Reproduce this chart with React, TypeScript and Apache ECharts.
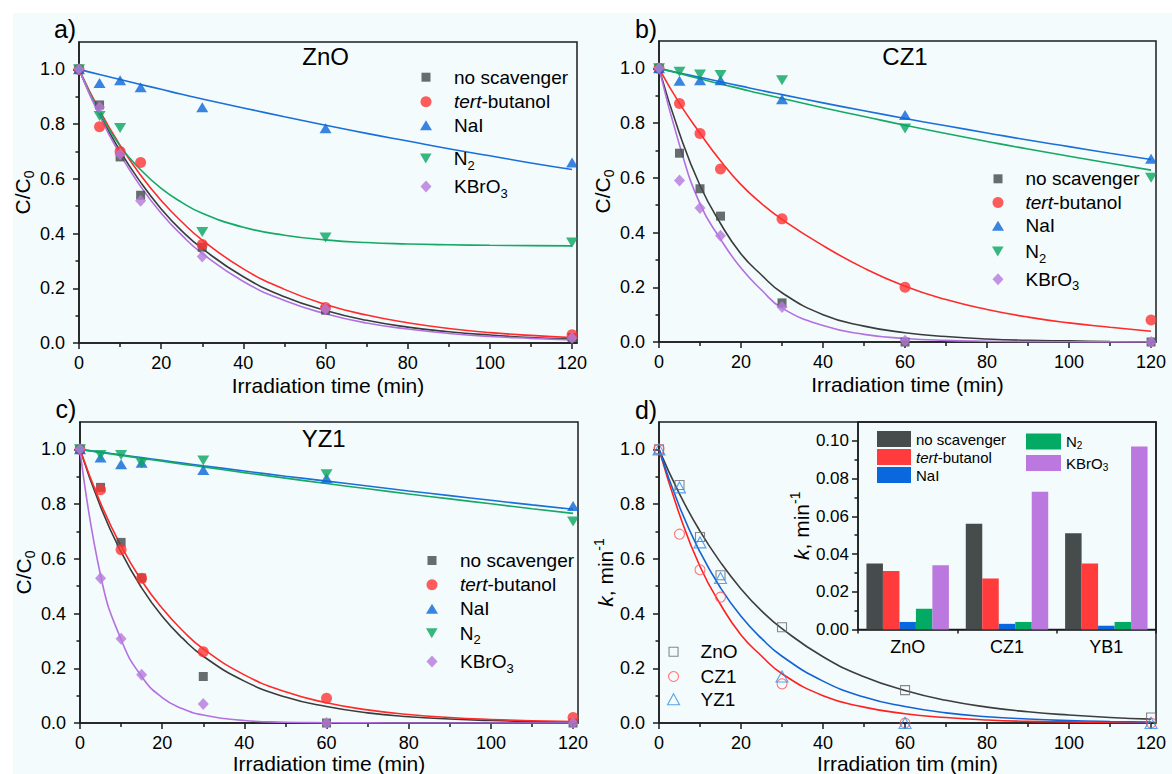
import React, { useEffect, useRef } from 'react';
import * as echarts from 'echarts';

// ---------------- data ----------------
const times = [0, 5, 10, 15, 30, 60, 120];
const fitTimes = [0, 5, 10, 15, 20, 25, 30, 40, 50, 60, 70, 80, 90, 100, 110, 120];

// panel a) ZnO – measured points
const aNoScav = [1.0, 0.87, 0.68, 0.54, 0.35, 0.12, 0.02];
const aTert = [1.0, 0.79, 0.7, 0.66, 0.36, 0.13, 0.03];
const aNaI = [1.0, 0.95, 0.96, 0.935, 0.862, 0.785, 0.66];
const aN2 = [1.0, 0.83, 0.786, null, 0.406, 0.386, 0.367];
const aKBrO3 = [1.0, 0.862, 0.69, 0.52, 0.316, 0.124, 0.018];
// panel a) fitted curves (at fitTimes)
const aFitNoScav = [1, 0.837, 0.701, 0.587, 0.49, 0.41, 0.345, 0.242, 0.169, 0.119, 0.083, 0.058, 0.041, 0.029, 0.02, 0.014];
const aFitTert = [1, 0.85, 0.722, 0.613, 0.521, 0.443, 0.376, 0.271, 0.196, 0.141, 0.102, 0.074, 0.053, 0.038, 0.028, 0.02];
const aFitNaI = [1, 0.981, 0.963, 0.945, 0.927, 0.909, 0.892, 0.859, 0.827, 0.796, 0.766, 0.738, 0.71, 0.684, 0.658, 0.634];
const aFitN2 = [1, 0.843, 0.72, 0.633, 0.565, 0.514, 0.474, 0.423, 0.394, 0.377, 0.367, 0.362, 0.359, 0.357, 0.356, 0.355];
const aFitKBrO3 = [1, 0.83, 0.689, 0.572, 0.474, 0.394, 0.327, 0.225, 0.155, 0.107, 0.073, 0.051, 0.035, 0.024, 0.017, 0.011];

// panel b) CZ1
const bNoScav = [1.0, 0.69, 0.56, 0.46, 0.143, 0.0, 0.0];
const bTert = [1.0, 0.872, 0.762, 0.632, 0.45, 0.2, 0.08];
const bNaI = [1.0, 0.955, 0.957, 0.957, 0.887, 0.83, 0.67];
const bN2 = [1.0, 0.988, 0.978, 0.976, 0.957, 0.78, 0.6];
const bKBrO3 = [1.0, 0.59, 0.49, 0.388, 0.128, 0.005, 0.0];
const bFitNoScav = [1, 0.762, 0.572, 0.433, 0.322, 0.245, 0.18, 0.1, 0.058, 0.034, 0.02, 0.011, 0.006, 0.004, 0.002, 0.001];
const bFitTert = [1, 0.872, 0.763, 0.662, 0.575, 0.506, 0.448, 0.352, 0.27, 0.204, 0.155, 0.119, 0.091, 0.07, 0.054, 0.039];
const bFitNaI = [1, 0.983, 0.967, 0.951, 0.935, 0.919, 0.904, 0.874, 0.845, 0.817, 0.79, 0.764, 0.738, 0.714, 0.69, 0.667];
const bFitN2 = [1, 0.981, 0.962, 0.943, 0.925, 0.907, 0.89, 0.856, 0.824, 0.792, 0.762, 0.733, 0.705, 0.679, 0.653, 0.628];
const bFitKBrO3 = [1, 0.72, 0.505, 0.376, 0.27, 0.19, 0.124, 0.06, 0.028, 0.013, 0.006, 0.003, 0.0015, 0.0007, 0.0003, 0.0002];

// panel c) YZ1
const cNoScav = [1.0, 0.861, 0.66, 0.53, 0.17, 0.0, 0.0];
const cTert = [1.0, 0.852, 0.633, 0.529, 0.26, 0.09, 0.02];
const cNaI = [1.0, 0.97, 0.946, 0.951, 0.925, 0.894, 0.793];
const cN2 = [1.0, 0.979, 0.979, 0.949, 0.959, 0.909, 0.736];
const cKBrO3 = [1.0, 0.529, 0.308, 0.176, 0.069, 0.0, 0.0];
const cFitNoScav = [1, 0.79, 0.625, 0.494, 0.39, 0.309, 0.244, 0.153, 0.095, 0.06, 0.037, 0.023, 0.0145, 0.009, 0.0057, 0.0036];
const cFitTert = [1, 0.804, 0.647, 0.52, 0.419, 0.337, 0.271, 0.176, 0.114, 0.074, 0.048, 0.031, 0.02, 0.013, 0.0084, 0.0054];
const cFitNaI = [1, 0.99, 0.98, 0.97, 0.96, 0.95, 0.94, 0.921, 0.902, 0.884, 0.866, 0.848, 0.831, 0.814, 0.797, 0.781];
const cFitN2 = [1, 0.989, 0.978, 0.967, 0.957, 0.946, 0.936, 0.915, 0.895, 0.875, 0.856, 0.837, 0.819, 0.801, 0.783, 0.766];
const cFitKBrO3 = [1, 0.54, 0.305, 0.17, 0.093, 0.052, 0.029, 0.009, 0.003, 0.001, 0.0003, 0.0001, 0, 0, 0, 0];

// inset: rate constants k (min^-1)
const kCategories = ['ZnO', 'CZ1', 'YB1'];
const kNoScav = [0.035, 0.056, 0.051];
const kTert = [0.031, 0.027, 0.035];
const kNaI = [0.004, 0.003, 0.002];
const kN2 = [0.011, 0.004, 0.004];
const kKBrO3 = [0.034, 0.073, 0.097];

// tick values
const xTickValues = [0, 20, 40, 60, 80, 100, 120];
const xMinorValues = [10, 30, 50, 70, 90, 110];
const yTickValues = [0, 0.2, 0.4, 0.6, 0.8, 1.0];
const yMinorValues = [0.1, 0.3, 0.5, 0.7, 0.9];
const kTickValues = [0, 0.02, 0.04, 0.06, 0.08, 0.1];
const kMinorValues = [0.01, 0.03, 0.05, 0.07, 0.09];

// ---------------- styling ----------------
const FONT = '"Liberation Sans", Arial, Helvetica, sans-serif';
const AX = '#1c1c1c';
const BG = '#f3fbfc';
const MARK = { black: '#444949', red: '#ff3434', blue: '#0a66d8', green: '#08a55f', purple: '#b679dc' };
const LINE = { black: '#3a3c3c', red: '#ff2a2a', blue: '#1a6fd8', green: '#16a865', purple: '#b370e0' };
const DOWN_TRI = 'path://M0,0L10,0L5,8.66Z';
const X_MAX = 121.2;

const rich = (s: number, lh: number) => ({
  n: { fontSize: s, lineHeight: lh, fontFamily: FONT, color: '#000' },
  i: { fontSize: s, lineHeight: lh, fontFamily: FONT, color: '#000', fontStyle: 'italic' },
  sub: { fontSize: Math.round(s * 0.66), lineHeight: Math.round(s * 0.6), fontFamily: FONT, color: '#000', verticalAlign: 'bottom' },
  sup: { fontSize: Math.round(s * 0.66), lineHeight: Math.round(s * 0.8), fontFamily: FONT, color: '#000', verticalAlign: 'top' },
});

const LABELS: Record<string, string> = {
  'no scavenger': '{n|no scavenger}',
  'tert-butanol': '{i|tert}{n|-butanol}',
  NaI: '{n|NaI}',
  N2: '{n|N}{sub|2}',
  KBrO3: '{n|KBrO}{sub|3}',
  ZnO: '{n|ZnO}',
  CZ1: '{n|CZ1}',
  YZ1: '{n|YZ1}',
};
const labelOf = (n: string) => LABELS[n.replace('bar:', '')] ?? n;

const seriesDefs = [
  { name: 'no scavenger', key: 'black', symbol: 'rect', size: [9, 9] },
  { name: 'tert-butanol', key: 'red', symbol: 'circle', size: [11, 11] },
  { name: 'NaI', key: 'blue', symbol: 'triangle', size: [12, 10] },
  { name: 'N2', key: 'green', symbol: DOWN_TRI, size: [12, 10] },
  { name: 'KBrO3', key: 'purple', symbol: 'diamond', size: [11, 12] },
];

function buildOption() {
  const xAxis: any[] = [];
  const yAxis: any[] = [];
  const series: any[] = [];
  const legend: any[] = [];
  const graphic: any[] = [];

  const grids = [
    { left: 79, top: 42, width: 498, height: 301 },
    { left: 659, top: 41, width: 497, height: 301 },
    { left: 80, top: 422, width: 498, height: 301 },
    { left: 659, top: 422, width: 497, height: 301 },
    { left: 858, top: 422, width: 298, height: 207.5 },
  ].map((g) => ({
    ...g,
    show: true,
    borderColor: AX,
    borderWidth: 1.5,
    backgroundColor: 'transparent',
    containLabel: false,
    outerBoundsMode: 'none',
  }));

  const tickLine = { color: AX, width: 1.5 };

  function addX(grid: number, name: string, nameGap: number) {
    const idx = xAxis.length;
    xAxis.push({
      type: 'value', gridIndex: grid, min: 0, max: X_MAX, position: 'bottom',
      axisLine: { show: true, onZero: false, lineStyle: tickLine },
      axisTick: { show: true, inside: false, length: 6, customValues: xTickValues, lineStyle: tickLine },
      axisLabel: { show: true, customValues: xTickValues, margin: 11, fontSize: 18, fontFamily: FONT, color: '#000', formatter: (v: number) => String(Math.round(v)) },
      splitLine: { show: false },
      name, nameLocation: 'middle', nameGap,
      nameTextStyle: { fontSize: 21, lineHeight: 22, fontFamily: FONT, color: '#000' },
    });
    xAxis.push({
      type: 'value', gridIndex: grid, min: 0, max: X_MAX, position: 'bottom',
      axisLine: { show: false },
      axisTick: { show: true, inside: false, length: 4, customValues: xMinorValues, lineStyle: tickLine },
      axisLabel: { show: false }, splitLine: { show: false },
    });
    return idx;
  }

  function addY(grid: number, min: number, max: number, majors: number[], minors: number[], digits: number, name: string, nameGap: number, fontSize: number, margin: number) {
    const idx = yAxis.length;
    yAxis.push({
      type: 'value', gridIndex: grid, min, max, position: 'left',
      axisLine: { show: true, onZero: false, lineStyle: tickLine },
      axisTick: { show: true, inside: false, length: 6, customValues: majors, lineStyle: tickLine },
      axisLabel: { show: true, customValues: majors, margin, fontSize, fontFamily: FONT, color: '#000', formatter: (v: number) => v.toFixed(digits) },
      splitLine: { show: false },
      name, nameLocation: 'middle', nameGap,
      nameTextStyle: { fontSize: 21, fontFamily: FONT, color: '#000', rich: rich(21, 27) },
    });
    yAxis.push({
      type: 'value', gridIndex: grid, min, max, position: 'left',
      axisLine: { show: false },
      axisTick: { show: true, inside: false, length: 3.5, customValues: minors, lineStyle: tickLine },
      axisLabel: { show: false }, splitLine: { show: false },
    });
    return idx;
  }

  function legendItem(name: string, iconW: number, iconH: number, markerX: number, cy: number, textX: number, fontSize: number, lh: number, extra: any = {}) {
    const left = markerX - iconW / 2;
    const padLeft = Math.max(0, textX - (left + iconW + 5));
    legend.push({
      show: true, data: [{ name, ...extra }], left, top: cy - lh / 2, orient: 'vertical',
      padding: 0, itemGap: 0, itemWidth: iconW, itemHeight: iconH, selectedMode: false,
      formatter: (n: string) => labelOf(n),
      textStyle: { fontSize, fontFamily: FONT, color: '#000', padding: [0, 0, 0, padLeft], rich: rich(fontSize, lh) },
    });
  }

  const pts = (vals: (number | null)[]) => times.map((t, i) => (vals[i] == null ? null : [t, vals[i]])).filter(Boolean);
  const fit = (vals: number[]) => fitTimes.map((t, i) => [t, vals[i]]);

  // panels a, b, c
  const panels = [
    { grid: 0, title: 'ZnO', label: 'a)', labelPos: [65, 28.5], titlePos: [325.6, 56.7], points: [aNoScav, aTert, aNaI, aN2, aKBrO3], fits: [aFitNoScav, aFitTert, aFitNaI, aFitN2, aFitKBrO3], legX: 426, legTX: 454, rows: [80.7, 105.3, 128.7, 162, 190], gap: 31 },
    { grid: 1, title: 'CZ1', label: 'b)', labelPos: [646, 28.5], titlePos: [905, 56.7], points: [bNoScav, bTert, bNaI, bN2, bKBrO3], fits: [bFitNoScav, bFitTert, bFitNaI, bFitN2, bFitKBrO3], legX: 998, legTX: 1025.5, rows: [182.3, 206, 229.3, 255, 282.7], gap: 31 },
    { grid: 2, title: 'YZ1', label: 'c)', labelPos: [66, 408.5], titlePos: [323.7, 438.3], points: [cNoScav, cTert, cNaI, cN2, cKBrO3], fits: [cFitNoScav, cFitTert, cFitNaI, cFitN2, cFitKBrO3], legX: 432, legTX: 460, rows: [564, 588.3, 612.3, 636.7, 665], gap: 28 },
  ];

  const lineSeries = (name: string, xi: number, yi: number, vals: number[], color: string) => ({
    type: 'line', name, xAxisIndex: xi, yAxisIndex: yi,
    data: fit(vals), showSymbol: false, symbol: 'none', smooth: 0.5,
    lineStyle: { width: 1.6, color }, silent: true, z: 2,
  });

  panels.forEach((p) => {
    const xi = addX(p.grid, 'Irradiation time (min)', p.gap);
    const yi = addY(p.grid, 0, 1.1, yTickValues, yMinorValues, 1, '{n|C/C}{sub|0}', 43.5, 18, 14);
    seriesDefs.forEach((d, k) => {
      series.push(lineSeries('fit ' + p.title + ' ' + d.name, xi, yi, p.fits[k], (LINE as any)[d.key]));
    });
    seriesDefs.forEach((d, k) => {
      series.push({
        type: 'scatter', name: d.name, xAxisIndex: xi, yAxisIndex: yi,
        data: pts(p.points[k]), symbol: d.symbol, symbolSize: d.size, clip: false,
        itemStyle: { color: (MARK as any)[d.key] }, silent: true, z: 3 + k * 0.01,
      });
      legendItem(d.name, d.size[0], d.size[1], p.legX, p.rows[k], p.legTX, 19, 26);
    });
    graphic.push({ type: 'text', x: p.labelPos[0], y: p.labelPos[1], style: { text: p.label, fontSize: 25, fontFamily: FONT, fill: '#000', align: 'center', verticalAlign: 'middle' } });
    graphic.push({ type: 'text', x: p.titlePos[0], y: p.titlePos[1], style: { text: p.title, fontSize: 24, fontFamily: FONT, fill: '#000', align: 'center', verticalAlign: 'middle' } });
  });

  // panel d
  const xd = addX(3, 'Irradiation tim (min)', 28);
  const yd = addY(3, 0, 1.1, yTickValues, yMinorValues, 1, '{i|k}{n|, min}{sup|-1}', 38.5, 18, 14);
  const dDefs = [
    { name: 'ZnO', fit: aFitNoScav, pts: aNoScav, line: '#3d3d3d', mark: '#6a6a6a', symbol: 'rect', size: [9, 9], row: 655.3 },
    { name: 'CZ1', fit: bFitNoScav, pts: bNoScav, line: '#ff2020', mark: '#ff5a5a', symbol: 'circle', size: [10, 10], row: 680 },
    { name: 'YZ1', fit: cFitNoScav, pts: cNoScav, line: '#1463d4', mark: '#2f8fe8', symbol: 'triangle', size: [12, 11], row: 702.7 },
  ];
  dDefs.forEach((d) => {
    series.push(lineSeries('fit d ' + d.name, xd, yd, d.fit, d.line));
  });
  dDefs.forEach((d) => {
    const st = { color: 'rgba(0,0,0,0)', borderColor: d.mark, borderWidth: 1.1 };
    series.push({
      type: 'scatter', name: d.name, xAxisIndex: xd, yAxisIndex: yd, data: pts(d.pts),
      symbol: d.symbol, symbolSize: d.size, clip: false, itemStyle: st, silent: true, z: 3,
    });
    legendItem(d.name, d.size[0], d.size[1], 673, d.row, 700, 19, 26, { itemStyle: st });
  });
  graphic.push({ type: 'text', x: 646, y: 410, style: { text: 'd)', fontSize: 25, fontFamily: FONT, fill: '#000', align: 'center', verticalAlign: 'middle' } });

  // inset bar chart
  const xi = xAxis.length;
  xAxis.push({
    type: 'category', gridIndex: 4, data: kCategories, position: 'bottom',
    axisLine: { show: true, onZero: false, lineStyle: tickLine },
    axisTick: { show: true, inside: false, length: 4, alignWithLabel: false, lineStyle: tickLine },
    axisLabel: { show: true, margin: 8, fontSize: 18, fontFamily: FONT, color: '#000' },
    splitLine: { show: false },
  });
  const yi = addY(4, 0, 0.11, kTickValues, kMinorValues, 2, '{i|k}{n|, min}{sup|-1}', 42, 17, 9);
  const barDefs = [
    { name: 'bar:no scavenger', data: kNoScav, color: '#464c4b', col: 0, row: 440 },
    { name: 'bar:tert-butanol', data: kTert, color: '#ff3b3b', col: 0, row: 458 },
    { name: 'bar:NaI', data: kNaI, color: '#0a68de', col: 0, row: 476 },
    { name: 'bar:N2', data: kN2, color: '#03aa63', col: 1, row: 442.5 },
    { name: 'bar:KBrO3', data: kKBrO3, color: '#bb78de', col: 1, row: 464 },
  ];
  barDefs.forEach((b) => {
    series.push({
      type: 'bar', name: b.name, xAxisIndex: xi, yAxisIndex: yi, data: b.data,
      barGap: '0%', barCategoryGap: '17%', itemStyle: { color: b.color }, silent: true, z: 2,
    });
    if (b.col === 0) legendItem(b.name, 34, 16, 894, b.row, 916, 15, 18, { icon: 'rect' });
    else legendItem(b.name, 35, 16, 1043.5, b.row, 1064, 15, 18, { icon: 'rect' });
  });

  // white outer margin of the figure
  graphic.unshift(
    { type: 'rect', silent: true, z: -10, shape: { x: 0, y: 0, width: 1172, height: 13 }, style: { fill: '#ffffff' } },
    { type: 'rect', silent: true, z: -10, shape: { x: 0, y: 0, width: 13, height: 774 }, style: { fill: '#ffffff' } },
  );

  return {
    animation: false,
    backgroundColor: BG,
    textStyle: { fontFamily: FONT },
    grid: grids,
    xAxis,
    yAxis,
    series,
    legend,
    graphic,
  };
}

export default function App() {
  const ref = useRef<HTMLDivElement>(null);
  useEffect(() => {
    if (!ref.current) return;
    const chart = echarts.init(ref.current, null, { renderer: 'svg', width: 1172, height: 774 });
    chart.setOption(buildOption() as any);
    return () => chart.dispose();
  }, []);
  return <div ref={ref} style={{ position: 'fixed', left: 0, top: 0, width: 1172, height: 774 }} />;
}
